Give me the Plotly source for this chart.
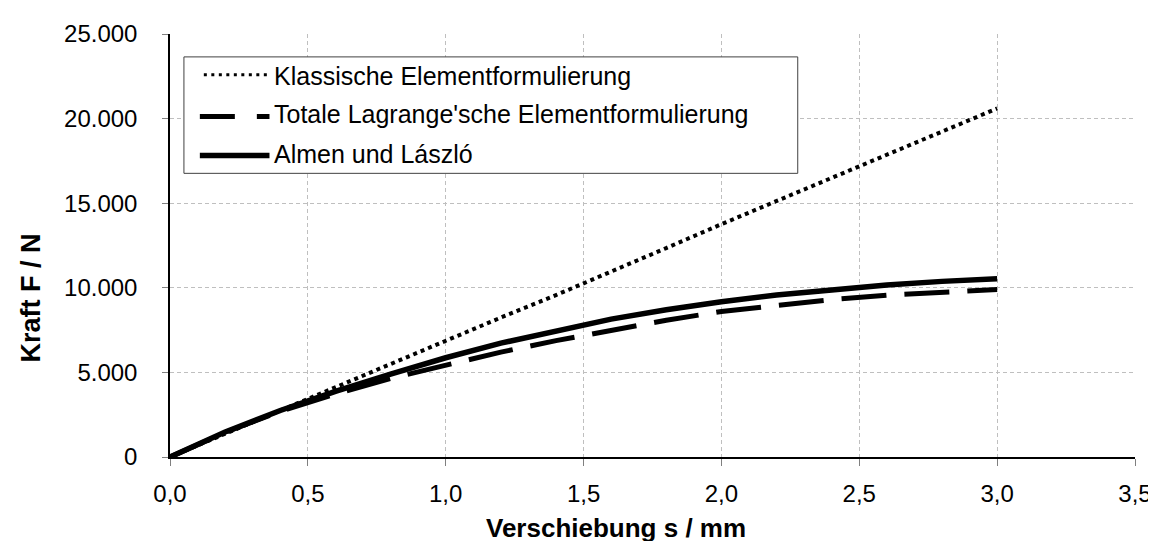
import plotly.graph_objects as go

# ---- data ----
s_mm = [0.0, 0.2, 0.4, 0.6, 0.8, 1.0, 1.2, 1.4, 1.6, 1.8, 2.0, 2.2, 2.4, 2.6, 2.8, 3.0]
klassisch = [0, 1380, 2760, 4140, 5520, 6900, 8240, 9570, 10940, 12350, 13760,
             15130, 16510, 17900, 19250, 20600]
total_lagrange = [0, 1450, 2700, 3720, 4640, 5450, 6200, 6880, 7500, 8080, 8600,
                  8980, 9300, 9560, 9750, 9900]
almen_laszlo = [0, 1480, 2750, 3880, 4900, 5865, 6730, 7460, 8150, 8700, 9180,
                9570, 9900, 10170, 10380, 10530]

names = ["Klassische Elementformulierung",
         "Totale Lagrange'sche Elementformulierung",
         "Almen und László"]

x_title = "Verschiebung s / mm"
y_title = "Kraft F / N"

FONT = "Liberation Sans, Arial, sans-serif"

# plot area in pixels
W, H = 1156, 541
L, R, T, B = 162, 24, 24, 92
PW = W - L - R
PH = H - T - B


def px_x(p):
    return (p - L) / PW


def px_y(p):
    return (H - B - p) / PH


fig = go.Figure()
fig.add_trace(go.Scatter(x=s_mm, y=klassisch, mode="lines", name=names[0],
                         line=dict(color="black", width=4, dash="4px,4px"),
                         showlegend=False))
fig.add_trace(go.Scatter(x=s_mm, y=total_lagrange, mode="lines", name=names[1],
                         line=dict(color="black", width=5, dash="45px,18px"),
                         showlegend=False))
fig.add_trace(go.Scatter(x=s_mm, y=almen_laszlo, mode="lines", name=names[2],
                         line=dict(color="black", width=5.5),
                         showlegend=False))

grid = dict(showgrid=True, gridcolor="#BFBFBF", gridwidth=1, griddash="4px,3px",
            zeroline=False, showline=True, linecolor="black", linewidth=1.5,
            ticks="outside", tickcolor="#808080", tickwidth=1,
            tickfont=dict(family=FONT, size=24, color="black"))

fig.update_xaxes(range=[0, 3.5], dtick=0.5, tick0=0, tickformat=".1f",
                 ticklen=7, ticklabelstandoff=7, **grid)
fig.update_yaxes(range=[0, 25000], dtick=5000, tick0=0, tickformat=",d",
                 ticklen=6, ticklabelstandoff=20, **grid)

# custom legend (box, sample lines, labels)
shapes = [dict(type="rect", xref="paper", yref="paper",
               x0=px_x(176), x1=px_x(793), y0=px_y(164), y1=px_y(47),
               line=dict(color="#404040", width=1), fillcolor="white", layer="above")]
samples = [
    (65, dict(color="black", width=3, dash="3px,4.5px"), 196),
    (107, dict(color="black", width=5, dash="35px,22px"), 192),
    (146, dict(color="black", width=5.5), 192),
]
for yy, ln, x0 in samples:
    shapes.append(dict(type="line", xref="paper", yref="paper",
                       x0=px_x(x0), x1=px_x(262), y0=px_y(yy), y1=px_y(yy),
                       line=ln, layer="above"))

annotations = []
for name, yy in zip(names, [66, 104, 145]):
    annotations.append(dict(text=name, xref="paper", yref="paper",
                            x=px_x(265), y=px_y(yy), xanchor="left", yanchor="middle",
                            showarrow=False,
                            font=dict(family=FONT, size=25, color="black")))

annotations.append(dict(text="<b>" + x_title + "</b>", xref="paper", yref="paper",
                        x=px_x(610), y=px_y(520), xanchor="center", yanchor="middle",
                        showarrow=False, font=dict(family=FONT, size=26, color="black")))
annotations.append(dict(text="<b>" + y_title + "</b>", xref="paper", yref="paper",
                        x=px_x(22), y=px_y(289), xanchor="center", yanchor="middle",
                        textangle=-90, showarrow=False,
                        font=dict(family=FONT, size=27, color="black")))

fig.update_layout(width=W, height=H, margin=dict(l=L, r=R, t=T, b=B),
                  paper_bgcolor="white", plot_bgcolor="white",
                  separators=",.", showlegend=False,
                  shapes=shapes, annotations=annotations,
                  font=dict(family=FONT, color="black"))

fig.write_html("out.html")
